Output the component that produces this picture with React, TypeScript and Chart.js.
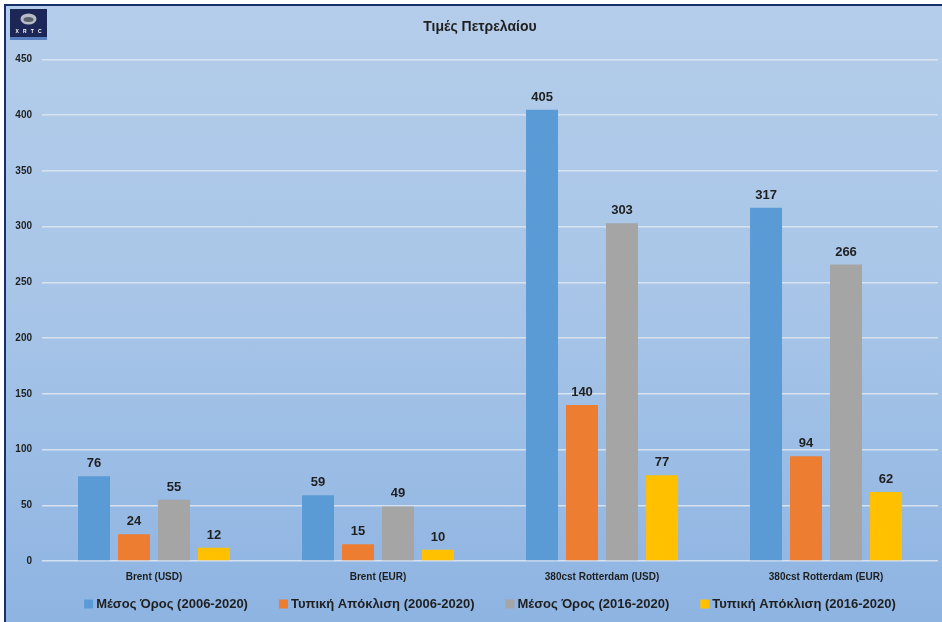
import React, { useEffect, useRef } from "react";
import { Chart, registerables } from "chart.js";

Chart.register(...registerables);

const categories = ["Brent (USD)", "Brent (EUR)", "380cst Rotterdam (USD)", "380cst Rotterdam (EUR)"];
const seriesNames = [
  "Μέσος Όρος (2006-2020)",
  "Τυπική Απόκλιση (2006-2020)",
  "Μέσος Όρος (2016-2020)",
  "Τυπική Απόκλιση (2016-2020)",
];
const mean2006 = [76, 59, 405, 317];
const std2006 = [24, 15, 140, 94];
const mean2016 = [55, 49, 303, 266];
const std2016 = [12, 10, 77, 62];
const seriesColors = ["#5B9BD5", "#ED7D31", "#A5A5A5", "#FFC000"];
const yMin = 0;
const yMax = 450;
const yStep = 50;
const chartTitle = "Τιμές Πετρελαίου";

const FONT = "'Liberation Sans', Arial, sans-serif";
const TEXT = "#1f1f1f";

const dataLabelsPlugin = {
  id: "dataLabels",
  afterDatasetsDraw(chart: any) {
    const ctx = chart.ctx;
    ctx.save();
    ctx.font = `bold 13px ${FONT}`;
    ctx.fillStyle = TEXT;
    ctx.textAlign = "center";
    ctx.textBaseline = "alphabetic";
    chart.data.datasets.forEach((ds: any, di: number) => {
      const meta = chart.getDatasetMeta(di);
      meta.data.forEach((el: any, i: number) => {
        ctx.fillText(String(ds.data[i]), el.x, el.y - 9);
      });
    });
    ctx.restore();
  },
};

const customLegendPlugin = {
  id: "customLegend",
  afterDraw(chart: any) {
    const ctx = chart.ctx;
    ctx.save();
    ctx.font = `bold 13px ${FONT}`;
    const box = 9;
    const gapBox = 3;
    const gapItem = 31;
    const items = chart.data.datasets.map((ds: any) => ({
      text: ds.label,
      color: ds.backgroundColor,
      w: ctx.measureText(ds.label).width,
    }));
    const total = items.reduce((s: number, it: any) => s + box + gapBox + it.w, 0) + gapItem * (items.length - 1);
    const center = (chart.chartArea.left + chart.chartArea.right) / 2;
    let x = center - total / 2;
    const y = 604;
    ctx.textBaseline = "middle";
    ctx.textAlign = "left";
    items.forEach((it: any) => {
      ctx.fillStyle = it.color;
      ctx.fillRect(x, y - box / 2, box, box);
      x += box + gapBox;
      ctx.fillStyle = TEXT;
      ctx.fillText(it.text, x, y);
      x += it.w + gapItem;
    });
    ctx.restore();
  },
};

const logoPlugin = {
  id: "logo",
  beforeDraw(chart: any) {
    const ctx = chart.ctx;
    ctx.save();
    ctx.fillStyle = "#1c2657";
    ctx.fillRect(10, 9, 37, 31);
    ctx.fillStyle = "#5a7fc0";
    ctx.fillRect(10, 37, 37, 3);
    ctx.fillStyle = "#b9bcc4";
    ctx.beginPath();
    ctx.ellipse(28.5, 19, 8, 5.5, 0, 0, Math.PI * 2);
    ctx.fill();
    ctx.fillStyle = "#5b5f6b";
    ctx.beginPath();
    ctx.ellipse(28.5, 19.5, 5, 2.5, 0, 0, Math.PI * 2);
    ctx.fill();
    ctx.fillStyle = "#ffffff";
    ctx.font = `bold 5px ${FONT}`;
    ctx.textAlign = "center";
    ctx.textBaseline = "middle";
    ctx.fillText("X   R   T   C", 28.5, 32);
    ctx.restore();
  },
  afterLayout(chart: any) {
    if (chart.titleBlock) {
      chart.titleBlock.left += 8;
      chart.titleBlock.right += 8;
    }
  },
};

export default function App() {
  const canvasRef = useRef<HTMLCanvasElement | null>(null);

  useEffect(() => {
    document.body.style.margin = "0";
    const canvas = canvasRef.current;
    if (!canvas) return;
    const datasetsData = [mean2006, std2006, mean2016, std2016];
    const chart = new Chart(canvas, {
      type: "bar",
      data: {
        labels: categories,
        datasets: datasetsData.map((d, i) => ({
          label: seriesNames[i],
          data: d,
          backgroundColor: seriesColors[i],
          borderWidth: 0,
          categoryPercentage: 0.714,
          barPercentage: 0.8,
        })),
      },
      options: {
        responsive: false,
        animation: false,
        layout: { padding: { left: 6, right: 4, top: 0, bottom: 31 } },
        plugins: {
          legend: { display: false },
          tooltip: { enabled: false },
          title: {
            display: true,
            text: chartTitle,
            color: TEXT,
            font: { family: FONT, size: 14, weight: "bold", lineHeight: 1.2 },
            padding: { top: 18.6, bottom: 24.1 },
          },
        },
        scales: {
          x: {
            grid: { display: false, drawTicks: false },
            border: { display: false },
            ticks: {
              color: TEXT,
              font: { family: FONT, size: 10, weight: "bold" },
              padding: 10,
              maxRotation: 0,
            },
            afterFit: (s: any) => {
              s.height = 30;
            },
          },
          y: {
            min: yMin,
            max: yMax,
            grid: { color: "rgba(222,230,240,0.9)", lineWidth: 1.5, drawTicks: false },
            border: { display: false },
            ticks: {
              stepSize: yStep,
              color: TEXT,
              font: { family: FONT, size: 10, weight: "bold" },
              padding: 10,
            },
            afterFit: (s: any) => {
              s.width = 36;
            },
          },
        },
      },
      plugins: [dataLabelsPlugin, customLegendPlugin, logoPlugin],
    });
    return () => chart.destroy();
  }, []);

  return (
    <div style={{ position: "fixed", left: 0, top: 0, width: 942, height: 622, background: "#ffffff", overflow: "hidden" }}>
      <div
        style={{
          position: "absolute",
          left: 4,
          top: 4,
          width: 938,
          height: 618,
          boxSizing: "border-box",
          borderLeft: "2px solid #17306b",
          borderTop: "2px solid #17306b",
          background: "linear-gradient(to bottom, #b4cdea 0%, #a9c6e8 45%, #8eb4e2 100%)",
        }}
      />
      <canvas ref={canvasRef} width={942} height={622} style={{ position: "absolute", left: 0, top: 0, width: 942, height: 622 }} />
    </div>
  );
}
